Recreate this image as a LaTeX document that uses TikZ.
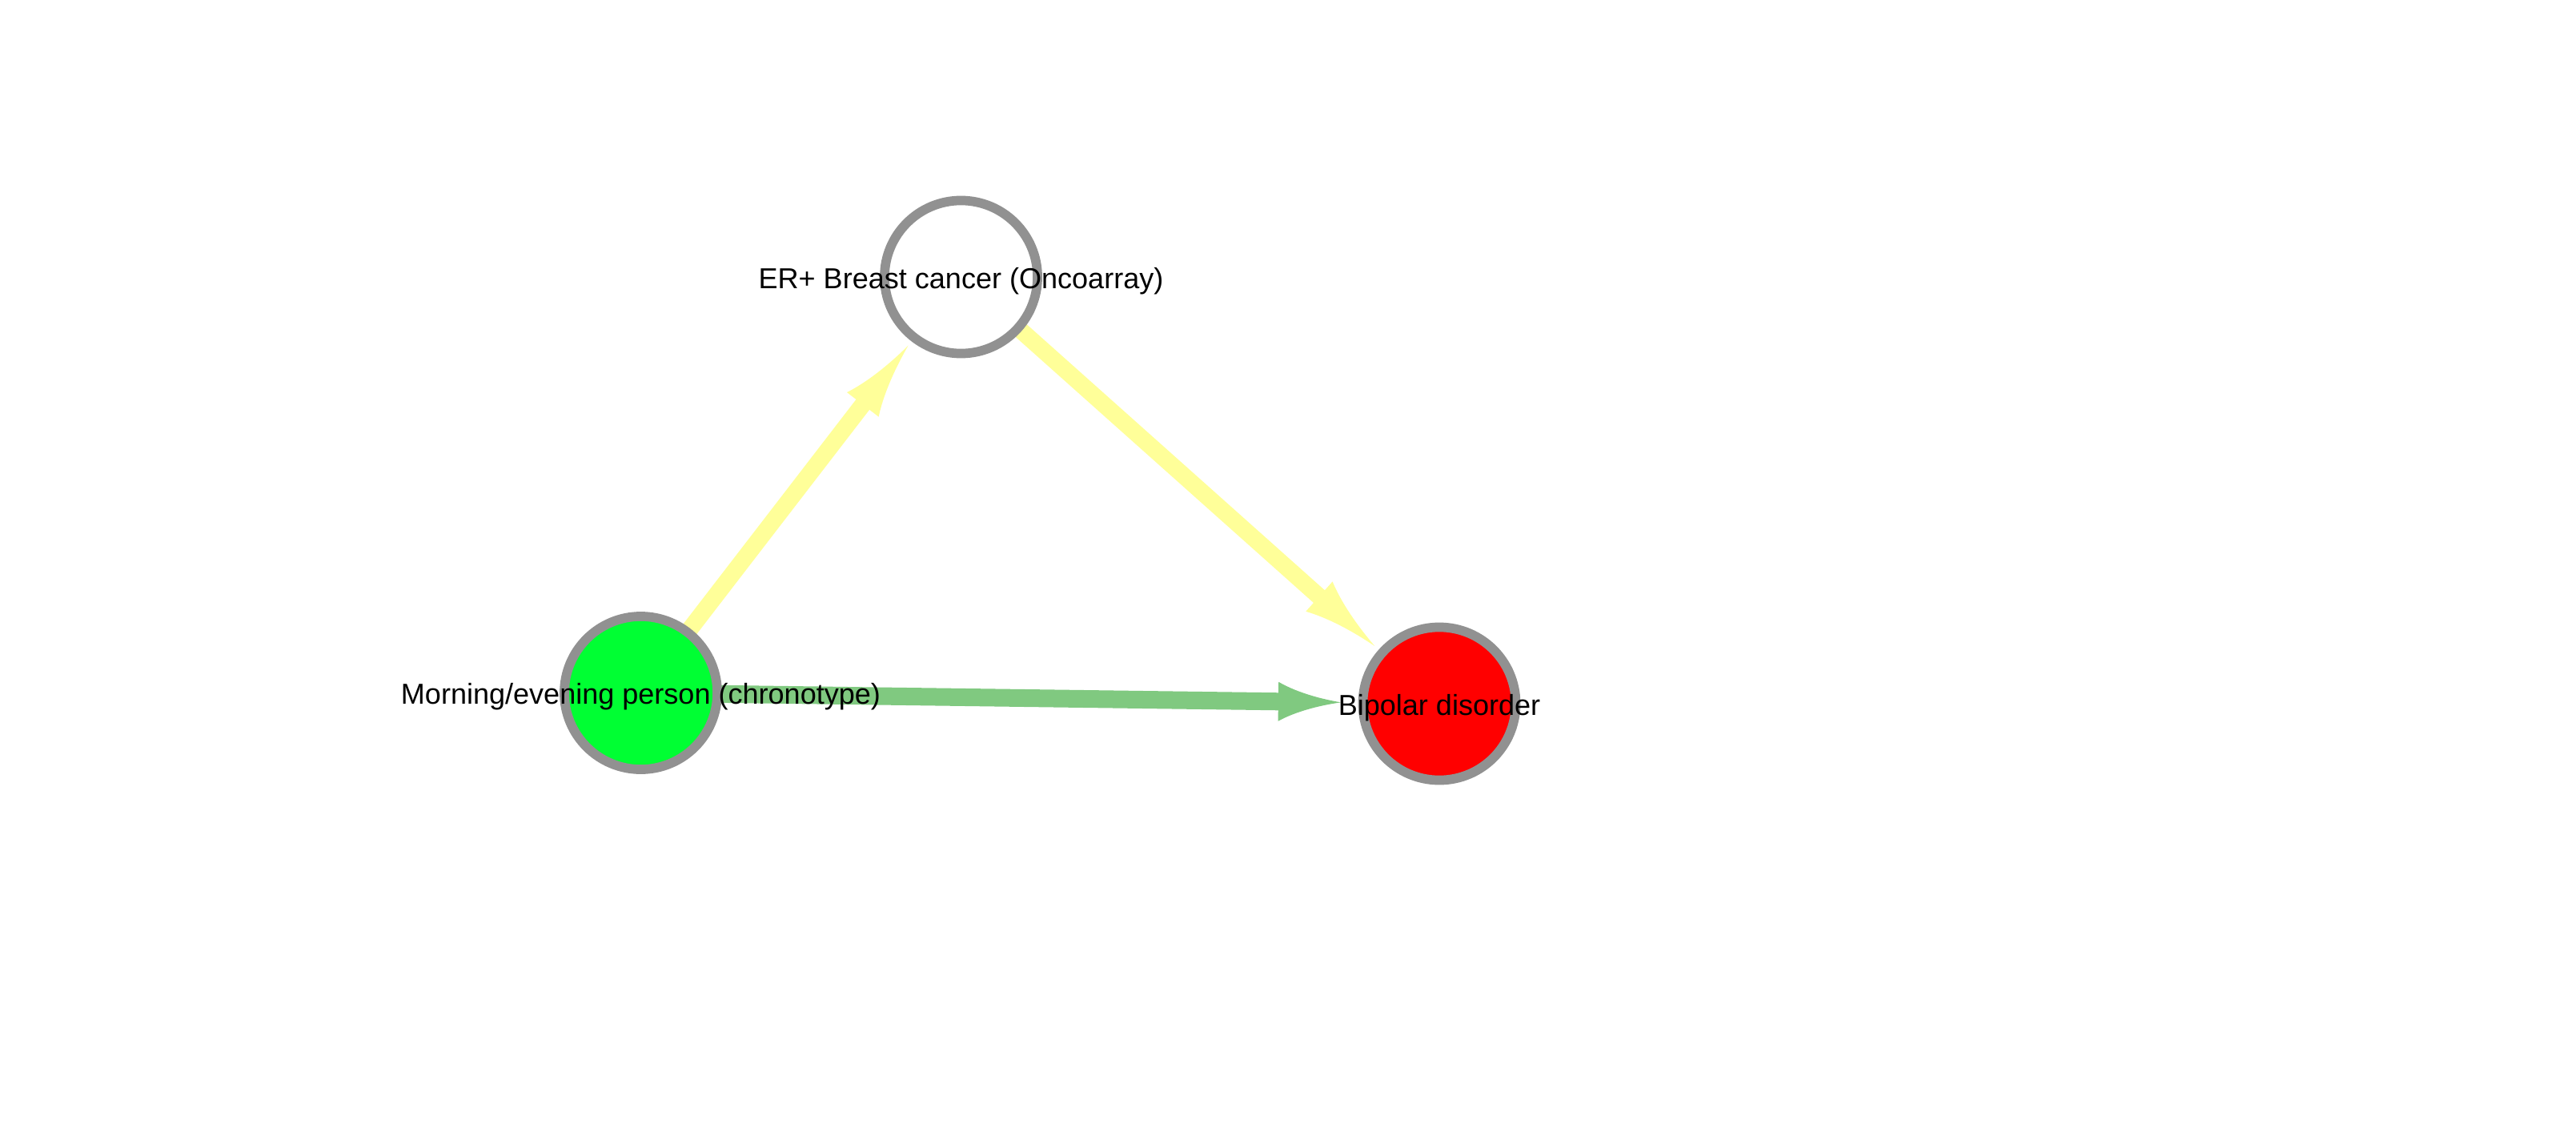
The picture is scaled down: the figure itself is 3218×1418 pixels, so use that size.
\documentclass[tikz,border=0pt]{standalone}
\usepackage{fontspec}
\setmainfont{Liberation Sans}
\usetikzlibrary{arrows.meta,calc}
\definecolor{nodeborder}{RGB}{145,145,145}
\definecolor{nodegreen}{RGB}{0,255,51}
\definecolor{nodered}{RGB}{255,0,0}
\definecolor{edgeyellow}{RGB}{255,255,153}
\definecolor{edgegreen}{RGB}{128,201,128}
\pgfdeclarelayer{bg}
\pgfdeclarelayer{edges}
\pgfsetlayers{bg,edges,main}
\pgfdeclarearrow{
  name = Cy,
  parameters = {\the\pgfarrowlength,\the\pgfarrowwidth},
  setup code = {
    \pgfarrowssettipend{0pt}
    \pgfarrowssetbackend{-\pgfarrowlength}
    \pgfarrowssetlineend{-0.9\pgfarrowlength}
    \pgfarrowssavethe\pgfarrowlength
    \pgfarrowssavethe\pgfarrowwidth
  },
  drawing code = {
    \pgfpathmoveto{\pgfqpoint{0pt}{0pt}}
    \pgfpathcurveto{\pgfqpoint{-0.4\pgfarrowlength}{0.1\pgfarrowwidth}}{\pgfqpoint{-0.75\pgfarrowlength}{0.275\pgfarrowwidth}}{\pgfqpoint{-\pgfarrowlength}{0.5\pgfarrowwidth}}
    \pgfpathlineto{\pgfqpoint{-\pgfarrowlength}{-0.5\pgfarrowwidth}}
    \pgfpathcurveto{\pgfqpoint{-0.75\pgfarrowlength}{-0.275\pgfarrowwidth}}{\pgfqpoint{-0.4\pgfarrowlength}{-0.1\pgfarrowwidth}}{\pgfqpoint{0pt}{0pt}}
    \pgfpathclose
    \pgfusepathqfill
  },
  defaults = {length = 22pt, width = 14pt}
}
\begin{document}
\begin{tikzpicture}[x=0.01cm,y=-0.01cm,
  vert/.style={circle,draw=nodeborder,line width=0.117cm,minimum size=1.91cm,inner sep=0pt},
  lbl/.style={inner sep=0pt,anchor=center,yshift=-0.05cm,font=\fontsize{10.25pt}{12pt}\selectfont,text=black},
  yedge/.style={draw=edgeyellow,line width=0.21cm,-{Cy[length=0.93cm,width=0.5cm]}},
  gedge/.style={draw=edgegreen,line width=0.22cm,-{Cy[length=0.78cm,width=0.49cm]}}]
\begin{pgfonlayer}{bg}
\fill[white] (0,0) rectangle (3218,1418);
\end{pgfonlayer}
\useasboundingbox (0,0) rectangle (3218,1418);
\node[vert,fill=white] (er) at (1200.5,346) {};
\node[vert,fill=nodegreen] (mo) at (800.5,865.5) {};
\node[vert,fill=nodered] (bp) at (1798,879) {};
\begin{pgfonlayer}{edges}
\draw[yedge] (mo.center) -- ($(er.center)!1.08cm!(mo.center)$);
\draw[yedge] (er.center) -- ($(bp.center)!1.08cm!(er.center)$);
\draw[gedge] (mo.center) -- ($(bp.center)!1.23cm!(mo.center)$);
\end{pgfonlayer}
\node[lbl] (erl) at (er.center) {ER+ Breast cancer (Oncoarray)};
\node[lbl] (mol) at (mo.center) {Morning/evening person (chronotype)};
\node[lbl] (bpl) at (bp.center) {Bipolar disorder};
\end{tikzpicture}
\end{document}
